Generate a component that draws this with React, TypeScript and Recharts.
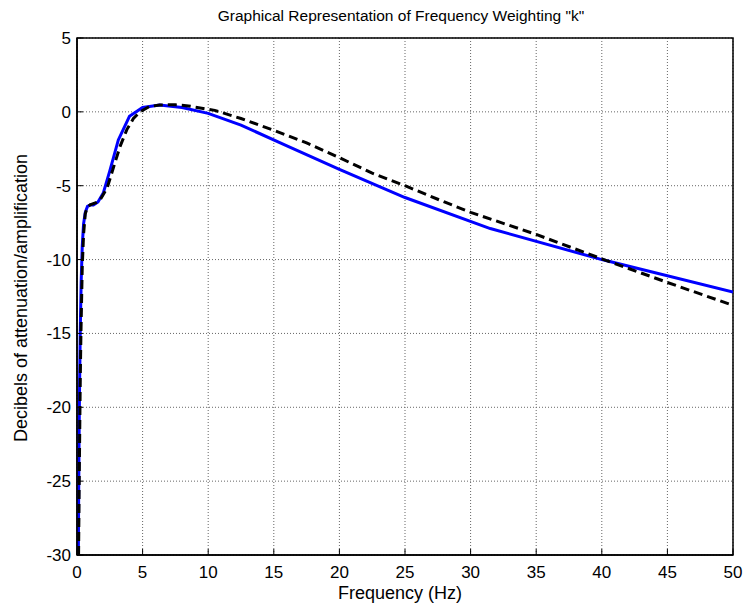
import { LineChart, Line, XAxis, YAxis, CartesianGrid, ReferenceArea } from 'recharts'

const FONT = '"Liberation Sans", Arial, Helvetica, sans-serif'

// third-octave band centres (Hz) and the tabulated weighting (dB), solid blue curve
const bandFreq = [
  0.1, 0.125, 0.16, 0.2, 0.25, 0.315, 0.4, 0.5, 0.63, 0.8, 1, 1.25, 1.6, 2, 2.5, 3.15,
  4, 5, 6.3, 8, 10, 12.5, 16, 20, 25, 31.5, 40, 50,
]
const bandDb = [
  -30.1, -26.3, -22.0, -18.3, -14.8, -11.6, -9.1, -7.6, -6.8, -6.4, -6.3, -6.3, -6.1, -5.5,
  -4.0, -1.9, -0.3, 0.3, 0.46, 0.3, -0.1, -0.9, -2.3, -3.9, -5.8, -7.9, -10.0, -12.2,
]

// filter response, dashed black curve
const filterFreq = [
  0.12, 0.18, 0.25, 0.3, 0.4, 0.5, 0.63, 0.8, 1, 1.45, 1.8, 2.3, 2.8, 3.3, 3.8, 4.3, 4.8,
  5.5, 6.3, 7.5, 8.5, 9.5, 10.5, 12.5, 15, 17.5, 20, 22.5, 25, 28, 30, 35, 40, 45, 50,
]
const filterDb = [
  -30, -24, -18, -15, -10.5, -8.3, -6.9, -6.45, -6.3, -6.15, -5.9, -5.15, -3.7, -2.3, -1.2,
  -0.45, 0.0, 0.35, 0.47, 0.48, 0.4, 0.25, 0.1, -0.45, -1.25, -2.1, -3.1, -4.15, -5.0, -6.1,
  -6.8, -8.3, -9.95, -11.55, -13.1,
]

const xTicks = [0, 5, 10, 15, 20, 25, 30, 35, 40, 45, 50]
const yTicks = [-30, -25, -20, -15, -10, -5, 0, 5]

const bandData = bandFreq.map((f, i) => ({ f, db: bandDb[i] }))
const filterData = filterFreq.map((f, i) => ({ f, db: filterDb[i] }))

const W = 745
const H = 613

export default function App() {
  const tickStyle = { fill: '#000', fontSize: 17, fontFamily: FONT }
  const axisLine = { stroke: '#000', strokeWidth: 1.5 }
  const tickLine = { stroke: '#000', strokeWidth: 1 }

  return (
    <div
      style={{
        position: 'absolute',
        left: 0,
        top: 0,
        width: W,
        height: H,
        background: '#fff',
        fontFamily: FONT,
      }}
    >
      <LineChart width={W} height={H} margin={{ top: 38, right: 12, bottom: 0, left: 0 }}>
        <CartesianGrid stroke="#666" strokeDasharray="1 2" />
        <XAxis
          dataKey="f"
          type="number"
          domain={[0, 50]}
          ticks={xTicks}
          height={58}
          tick={tickStyle}
          axisLine={axisLine}
          tickLine={tickLine}
          tickSize={-6}
          tickMargin={17}
          allowDataOverflow
        />
        <XAxis
          xAxisId="top"
          orientation="top"
          dataKey="f"
          type="number"
          domain={[0, 50]}
          ticks={xTicks}
          height={0}
          tick={false}
          axisLine={axisLine}
          tickLine={tickLine}
          tickSize={-6}
        />
        <YAxis
          type="number"
          domain={[-30, 5]}
          ticks={yTicks}
          width={77}
          tick={tickStyle}
          axisLine={axisLine}
          tickLine={tickLine}
          tickSize={-6}
          tickMargin={12}
          allowDataOverflow
        />
        <YAxis
          yAxisId="right"
          orientation="right"
          type="number"
          domain={[-30, 5]}
          ticks={yTicks}
          width={0}
          tick={false}
          axisLine={axisLine}
          tickLine={tickLine}
          tickSize={-6}
        />
        <Line
          data={bandData}
          dataKey="db"
          type="linear"
          stroke="#0000ff"
          strokeWidth={3}
          dot={false}
          isAnimationActive={false}
        />
        <Line
          data={filterData}
          dataKey="db"
          type="linear"
          stroke="#000"
          strokeWidth={3}
          strokeDasharray="9 5"
          dot={false}
          isAnimationActive={false}
        />
        <ReferenceArea
          x1={0}
          x2={50}
          y1={-30}
          y2={5}
          fill="none"
          fillOpacity={0}
          stroke="#000"
          strokeWidth={1.5}
        />
      </LineChart>
      <svg
        width={W}
        height={H}
        style={{ position: 'absolute', left: 0, top: 0, pointerEvents: 'none' }}
        fontFamily={FONT}
      >
        <text x={401} y={21} fontSize={15.5} textAnchor="middle" fill="#000">
          Graphical Representation of Frequency Weighting "k"
        </text>
        <text x={400} y={599} fontSize={18} textAnchor="middle" fill="#000">
          Frequency (Hz)
        </text>
        <text
          x={0}
          y={0}
          fontSize={18}
          textAnchor="middle"
          fill="#000"
          transform="translate(27 298) rotate(-90)"
        >
          Decibels of attenuation/amplification
        </text>
      </svg>
    </div>
  )
}
